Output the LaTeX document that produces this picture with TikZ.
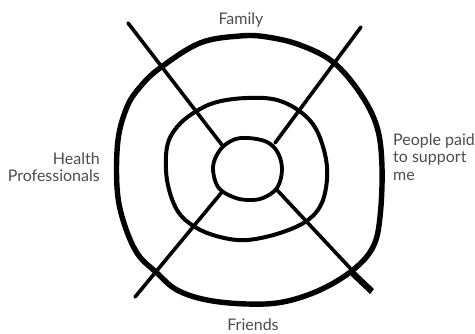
\documentclass[tikz,border=0pt]{standalone}
\usepackage{fontspec}
\setmainfont{Lato}
\begin{document}
\begin{tikzpicture}[x=1pt,y=-1pt,
  ring/.style={line width=#1, line join=round, line cap=round},
  spoke/.style={line width=3.6, line cap=round},
  lbl/.style={text=black!70, font=\fontsize{16}{17.5}\selectfont, inner sep=0pt}]
\useasboundingbox (0,0) rectangle (475,334);
% outer ring
\draw[ring=5.4] plot[smooth cycle, tension=0.6] coordinates {
 (240,36) (267,37) (300,45) (333,62) (360,93) (377,127) (382,167) (380,217)
 (373,247) (353,270) (320,290) (283,302) (247,304) (207,300) (177,290) (157,273)
 (137,253) (123,220) (117,187) (118,140) (127,107) (140,87) (160,68) (200,43)};
% middle ring
\draw[ring=4] plot[smooth cycle, tension=0.6] coordinates {
 (247,98) (277,100) (302,113) (318,133) (327,167) (323,200) (308,220) (280,233)
 (247,240) (220,237) (195,227) (177,210) (167,180) (167,147) (177,127) (195,112) (217,102)};
% inner ring
\draw[ring=3.8] plot[smooth cycle, tension=0.6] coordinates {
 (248,138) (267,142) (278,153) (282,170) (277,188) (263,198) (248,200) (233,197)
 (218,187) (213,167) (220,150) (233,140)};
% spokes
\draw[spoke] (128,23) -- (222,145);
\draw[spoke] (361,27) -- (275,143);
\draw[spoke] (135,297) -- (222,192);
\draw[spoke] (277,190) -- (350,268);
\fill (347,264) -- (355,271) -- (374,289) -- (370,294) -- (351,276) -- cycle;
% labels
\node[lbl, anchor=base] (family) at (241,25) {Family};
\node[lbl, anchor=east, align=right] (health) at (100,167) {Health\\Professionals};
\node[lbl, anchor=west, align=left] (paid) at (393,157) {People paid\\to support\\me};
\node[lbl, anchor=base] (friends) at (253,331) {Friends};
\end{tikzpicture}
\end{document}
